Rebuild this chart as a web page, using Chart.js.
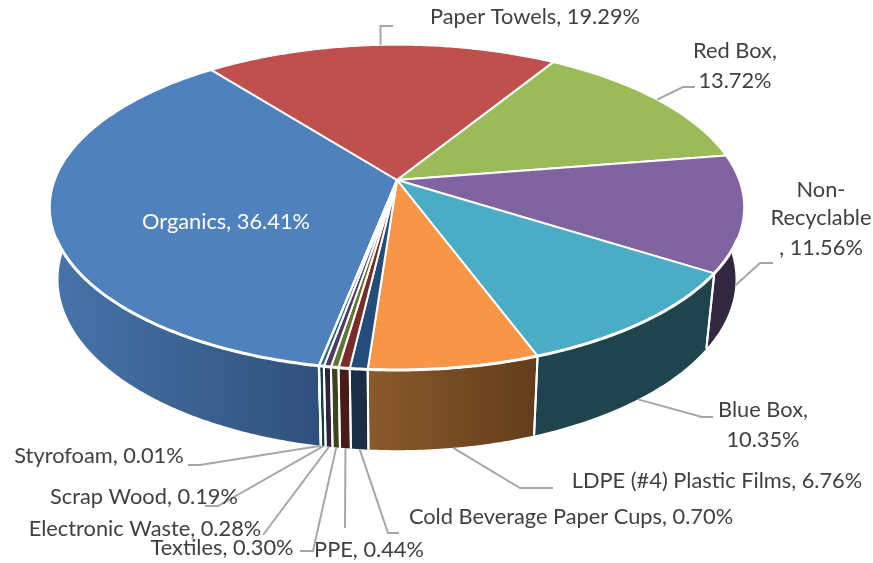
<!DOCTYPE html>
<html>
<head>
<meta charset="utf-8">
<title>Waste composition</title>
<script src="https://cdn.jsdelivr.net/npm/chart.js@4"></script>
<style>
  html, body { margin: 0; padding: 0; background: #fff; }
  canvas { display: block; }
</style>
</head>
<body>
<canvas id="myChart" width="873" height="563"></canvas>
<script>
// Data
const categories = ['Organics', 'Paper Towels', 'Red Box', 'Non-Recyclable', 'Blue Box',
  'LDPE (#4) Plastic Films', 'Cold Beverage Paper Cups', 'PPE', 'Textiles',
  'Electronic Waste', 'Scrap Wood', 'Styrofoam'];
const shares = [36.41, 19.29, 13.72, 11.56, 10.35, 6.76, 0.70, 0.44, 0.30, 0.28, 0.19, 0.01];

// Slice colours: top face, wall at left, wall at right
const topColors = ['#4f81bd', '#c0504d', '#9bbb59', '#8064a2', '#4bacc6', '#f79646',
  '#254d7c', '#7a2c2a', '#5f7530', '#4d3b62', '#276a7c', '#b65708'];
const wallLeft = ['#4774aa', '#7a3230', '#62773a', '#32283f', '#1f444e', '#8a5a2b',
  '#1b2e47', '#4a1a19', '#3a471d', '#2e243c', '#173f4a', '#6e3505'];
const wallRight = ['#30517b', '#7a3230', '#62773a', '#32283f', '#1f444e', '#633d1b',
  '#1b2e47', '#4a1a19', '#3a471d', '#2e243c', '#173f4a', '#6e3505'];

// Label layout: text lines, line centres, and the leader's path after it leaves the slice
const labelStyle = { font: '21.8px Lato', color: '#404040', leader: '#a6a6a6' };
const labels = [
  { lines: [['Organics, 36.41%', 226, 222]], color: '#ffffff' },
  { lines: [['Paper Towels, 19.29%', 535, 17]], leader: [[380.5, 26], [393, 26]] },
  { lines: [['Red Box,', 735, 51], ['13.72%', 735, 81]], leader: [[683, 87], [695, 87]] },
  { lines: [['Non-', 821, 190], ['Recyclable', 821, 218], [', 11.56%', 821, 248]], leader: [[760, 263], [773, 263]], wall: true },
  { lines: [['Blue Box,', 763, 410], ['10.35%', 763, 440]], leader: [[702, 417], [713, 417]], wall: true },
  { lines: [['LDPE (#4) Plastic Films, 6.76%', 717, 481]], leader: [[520, 488], [553, 488]], wall: true },
  { lines: [['Cold Beverage Paper Cups, 0.70%', 571, 517]], leader: [[388, 533], [399, 533]], wall: true },
  { lines: [['PPE, 0.44%', 369, 550]], leader: [[345, 528]], wall: true },
  { lines: [['Textiles, 0.30%', 222, 548]], leader: [[313, 551], [300, 551]], wall: true },
  { lines: [['Electronic Waste, 0.28%', 145, 529]], leader: [[263, 535]], wall: true },
  { lines: [['Scrap Wood, 0.19%', 144, 497]], leader: [[218, 506], [205, 506]], wall: true },
  { lines: [['Styrofoam, 0.01%', 99, 456]], leader: [[200, 465], [188, 465]], wall: true }
];

// Perspective of the tilted disc, as ratios of the radius Chart.js gives the arcs
const tilt = { rx: 1.912, ry: 0.883, lean: 0.168, baseX: 0.975, baseY: 1.05, drop: 0.395 };

function topPoint(arc, angle) {
  const r = arc.outerRadius;
  const w = 1 - tilt.lean * Math.sin(angle);
  return {
    x: arc.x + r * tilt.rx * Math.cos(angle) / w,
    y: arc.y + r * tilt.ry * Math.sin(angle) / w
  };
}

function basePoint(arc, angle) {
  const p = topPoint(arc, angle);
  return {
    x: arc.x + (p.x - arc.x) * tilt.baseX,
    y: arc.y + (p.y - arc.y) * tilt.baseY + arc.outerRadius * tilt.drop
  };
}

function sampleAngles(arc) {
  const list = [];
  const steps = Math.max(2, Math.ceil((arc.endAngle - arc.startAngle) / 0.01));
  for (let i = 0; i <= steps; i++) {
    list.push(arc.startAngle + (arc.endAngle - arc.startAngle) * i / steps);
  }
  return list;
}

function drawWall(ctx, arc, index) {
  const angles = sampleAngles(arc).filter(a => Math.sin(a) > -0.25);
  if (angles.length < 2) return;
  const tops = angles.map(a => topPoint(arc, a));
  const bases = angles.map(a => basePoint(arc, a));
  const xs = tops.map(p => p.x);
  const shade = ctx.createLinearGradient(Math.min(...xs), 0, Math.max(...xs), 0);
  shade.addColorStop(0, wallLeft[index]);
  shade.addColorStop(1, wallRight[index]);

  ctx.beginPath();
  tops.forEach((p, i) => (i ? ctx.lineTo(p.x, p.y) : ctx.moveTo(p.x, p.y)));
  bases.reverse().forEach(p => ctx.lineTo(p.x, p.y));
  ctx.closePath();
  ctx.fillStyle = shade;
  ctx.fill();
}

function drawSeams(ctx, arc) {
  [arc.startAngle, arc.endAngle].forEach(a => {
    if (Math.sin(a) <= 0) return;
    const t = topPoint(arc, a);
    const b = basePoint(arc, a);
    ctx.beginPath();
    ctx.moveTo(t.x, t.y);
    ctx.lineTo(b.x, b.y);
    ctx.strokeStyle = '#ffffff';
    ctx.lineWidth = 2;
    ctx.stroke();
  });
}

function drawTop(ctx, arc) {
  ctx.beginPath();
  ctx.moveTo(arc.x, arc.y);
  sampleAngles(arc).forEach(a => {
    const p = topPoint(arc, a);
    ctx.lineTo(p.x, p.y);
  });
  ctx.closePath();
  ctx.fillStyle = arc.options.backgroundColor;
  ctx.fill();
  ctx.strokeStyle = arc.options.borderColor;
  ctx.lineWidth = arc.options.borderWidth;
  ctx.lineJoin = 'round';
  ctx.stroke();
}

// Heavier white rim where the top face meets the wall
function drawRim(ctx, arc) {
  const angles = sampleAngles(arc).filter(a => Math.sin(a) > 0.35);
  if (angles.length < 2) return;
  ctx.beginPath();
  angles.forEach((a, i) => {
    const p = topPoint(arc, a);
    if (i) ctx.lineTo(p.x, p.y);
    else ctx.moveTo(p.x, p.y);
  });
  ctx.strokeStyle = arc.options.borderColor;
  ctx.lineWidth = 3;
  ctx.stroke();
}

// Chart.js works out the arcs; this draws them as a tilted disc with a wall
const tiltedPie = {
  id: 'tiltedPie',
  beforeDatasetsDraw(chart) {
    const ctx = chart.ctx;
    const arcs = chart.getDatasetMeta(0).data;
    ctx.save();
    arcs.forEach((arc, i) => drawWall(ctx, arc, i));
    arcs.forEach(arc => drawSeams(ctx, arc));
    arcs.forEach(arc => drawTop(ctx, arc));
    arcs.forEach(arc => drawRim(ctx, arc));
    ctx.restore();
    return false;
  },
  afterDraw(chart) {
    const ctx = chart.ctx;
    const arcs = chart.getDatasetMeta(0).data;
    ctx.save();
    ctx.font = labelStyle.font;
    ctx.textAlign = 'center';
    ctx.textBaseline = 'middle';
    labels.forEach((label, i) => {
      if (label.leader) {
        const mid = (arcs[i].startAngle + arcs[i].endAngle) / 2;
        const start = label.wall ? basePoint(arcs[i], mid) : topPoint(arcs[i], mid);
        ctx.beginPath();
        ctx.moveTo(start.x, start.y);
        label.leader.forEach(p => ctx.lineTo(p[0], p[1]));
        ctx.strokeStyle = labelStyle.leader;
        ctx.lineWidth = 2;
        ctx.stroke();
      }
    });
    labels.forEach(label => {
      ctx.fillStyle = label.color || labelStyle.color;
      label.lines.forEach(l => ctx.fillText(l[0], l[1], l[2]));
    });
    ctx.restore();
  }
};

const myChart = new Chart(document.getElementById('myChart').getContext('2d'), {
  type: 'pie',
  data: {
    labels: categories,
    datasets: [{
      data: shares,
      backgroundColor: topColors,
      borderColor: '#ffffff',
      borderWidth: 2
    }]
  },
  options: {
    responsive: false,
    animation: false,
    rotation: 191,
    layout: { padding: { left: 0, right: 79, top: 0, bottom: 203 } },
    plugins: {
      legend: { display: false },
      tooltip: { enabled: false }
    }
  },
  plugins: [tiltedPie]
});
</script>
</body>
</html>
